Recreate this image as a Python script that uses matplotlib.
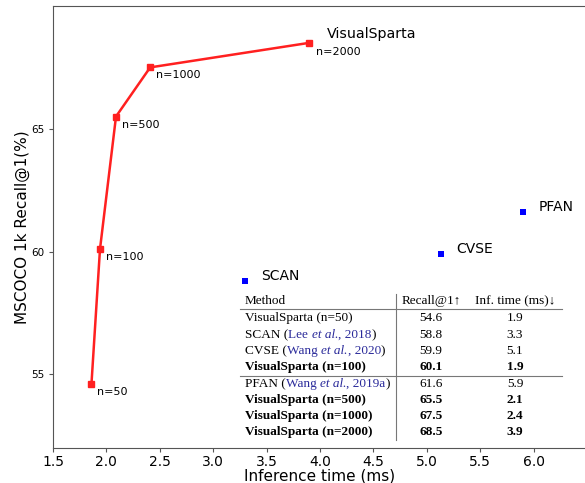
import matplotlib
matplotlib.use('Agg')
import matplotlib.pyplot as plt

# ==========================================
# data
# ==========================================
vs_time = [1.86, 1.94, 2.09, 2.41, 3.90]
vs_recall = [54.6, 60.1, 65.5, 67.5, 68.5]
vs_labels = ['n=50', 'n=100', 'n=500', 'n=1000', 'n=2000']

base_names = ['SCAN', 'CVSE', 'PFAN']
base_time = [3.30, 5.13, 5.90]
base_recall = [58.8, 59.9, 61.6]

# table rows: (method pieces, recall, time, bold)
# piece = (text, style) with style 'n' normal, 'c' citation, 'ci' citation italic
table_rows = [
    ([('VisualSparta (n=50)', 'n')], '54.6', '1.9', False),
    ([('SCAN (', 'n'), ('Lee ', 'c'), ('et al.', 'ci'), (', 2018', 'c'), (')', 'n')], '58.8', '3.3', False),
    ([('CVSE (', 'n'), ('Wang ', 'c'), ('et al.', 'ci'), (', 2020', 'c'), (')', 'n')], '59.9', '5.1', False),
    ([('VisualSparta (n=100)', 'n')], '60.1', '1.9', True),
    ([('PFAN (', 'n'), ('Wang ', 'c'), ('et al.', 'ci'), (', 2019a', 'c'), (')', 'n')], '61.6', '5.9', False),
    ([('VisualSparta (n=500)', 'n')], '65.5', '2.1', True),
    ([('VisualSparta (n=1000)', 'n')], '67.5', '2.4', True),
    ([('VisualSparta (n=2000)', 'n')], '68.5', '3.9', True),
]
table_header = ['Method', 'Recall@1\u2191', 'Inf. time (ms)\u2193']

W, H = 585, 483
fig = plt.figure(figsize=(W / 100, H / 100), dpi=100)
ax = fig.add_axes([53 / W, 35 / H, 534 / W, 442 / H])

ax.plot(vs_time, vs_recall, color='#ff2020', linewidth=1.8, marker='s', markersize=4, zorder=3)
label_off = [(6, -3), (6, -3), (6, -3), (6, -3), (7, -4)]
for x, y, lab, off in zip(vs_time, vs_recall, vs_labels, label_off):
    ax.annotate(lab, (x, y), xytext=off, textcoords='offset pixels', fontsize=8, va='top', ha='left')
ax.annotate('VisualSparta', (vs_time[-1], vs_recall[-1]), xytext=(18, 9), textcoords='offset pixels',
            fontsize=10.2, va='center', ha='left')

ax.scatter(base_time, base_recall, marker='s', color='#0000ff', s=14, zorder=3, linewidths=0)
for x, y, name in zip(base_time, base_recall, base_names):
    ax.annotate(name, (x, y), xytext=(16, 5), textcoords='offset pixels', fontsize=10, va='center', ha='left')

ax.set_xlim(1.5, 6.5)
ax.set_ylim(52, 70)
ax.set_xticks([1.5, 2.0, 2.5, 3.0, 3.5, 4.0, 4.5, 5.0, 5.5, 6.0])
ax.set_yticks([55, 60, 65])
ax.tick_params(axis='x', labelsize=10, length=3, pad=2, color='#555555')
ax.tick_params(axis='y', labelsize=7.5, length=3, pad=3, color='#555555')
for sp in ax.spines.values():
    sp.set_color('#555555')
ax.set_xlabel('Inference time (ms)', fontsize=11, labelpad=0)
ax.set_ylabel('MSCOCO 1k Recall@1(%)', fontsize=11, labelpad=1)

# ==========================================
# inset table (figure pixel coords)
# ==========================================
serif = ['Liberation Serif', 'DejaVu Serif']
cite_color = '#2a2a9a'
fs = 9.5


def fx(px):
    return px / W


def fy(py):
    return 1 - py / H


line_kw = dict(color='#777777', linewidth=0.8, transform=fig.transFigure)
fig.add_artist(plt.Line2D([fx(240), fx(562)], [fy(309), fy(309)], **line_kw))
fig.add_artist(plt.Line2D([fx(240), fx(562)], [fy(376), fy(376)], **line_kw))
fig.add_artist(plt.Line2D([fx(396), fx(396)], [fy(294), fy(440)], **line_kw))

col_x = [245, 431, 515]
row_y = [301, 318, 335, 351, 367, 384, 400, 416, 432]

fig.text(fx(col_x[0]), fy(row_y[0]), table_header[0], family=serif, fontsize=fs, va='center', ha='left')
fig.text(fx(col_x[1]), fy(row_y[0]), table_header[1], family=serif, fontsize=fs, va='center', ha='center')
fig.text(fx(col_x[2]), fy(row_y[0]), table_header[2], family=serif, fontsize=fs, va='center', ha='center')

for (pieces, rec, tm, bold), yy in zip(table_rows, row_y[1:]):
    weight = 'bold' if bold else 'normal'
    prev = None
    for txt, st in pieces:
        color = cite_color if st in ('c', 'ci') else 'black'
        style = 'italic' if st == 'ci' else 'normal'
        if prev is None:
            prev = fig.text(fx(col_x[0]), fy(yy), txt, family=serif, fontsize=fs, va='center', ha='left',
                            color=color, style=style, weight=weight)
        else:
            prev = fig.add_artist(matplotlib.text.Annotation(
                txt, xy=(1, 0), xycoords=prev, va='bottom', ha='left', family=serif, fontsize=fs,
                color=color, style=style, weight=weight))
    fig.text(fx(col_x[1]), fy(yy), rec, family=serif, fontsize=fs, va='center', ha='center', weight=weight)
    fig.text(fx(col_x[2]), fy(yy), tm, family=serif, fontsize=fs, va='center', ha='center', weight=weight)

fig.savefig('out.png', dpi=100)
